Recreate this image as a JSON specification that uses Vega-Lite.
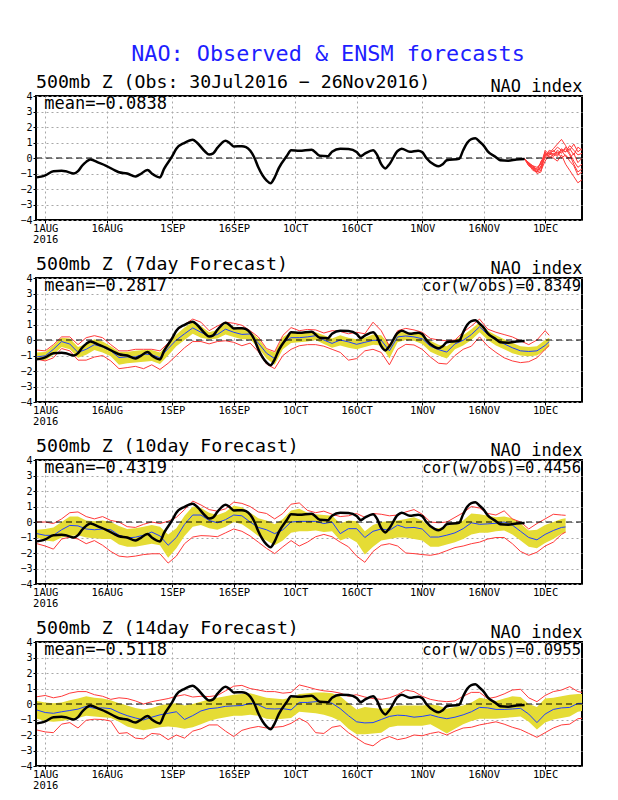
{
"$schema":"https://vega.github.io/schema/vega-lite/v6.json",
"autosize":{"type":"pad"},
"padding":{"left":18,"top":44,"right":30,"bottom":10},
"background":"white",
"title":{"text":"NAO: Observed & ENSM forecasts","color":"#1e1eff","fontSize":21.8,"font":"DejaVu Sans Mono","fontWeight":"normal","anchor":"middle","frame":"group","offset":6,"dx":19},
"bounds":"flush",
"spacing":58,
"datasets":{
"obs":[{"d":"2016-07-30","v":-1.25},{"d":"2016-07-31","v":-1.2},{"d":"2016-08-01","v":-1.12},{"d":"2016-08-03","v":-0.85},{"d":"2016-08-05","v":-0.83},{"d":"2016-08-06","v":-0.86},{"d":"2016-08-08","v":-1.0},{"d":"2016-08-09","v":-0.85},{"d":"2016-08-10","v":-0.5},{"d":"2016-08-11","v":-0.25},{"d":"2016-08-12","v":-0.1},{"d":"2016-08-14","v":-0.3},{"d":"2016-08-16","v":-0.52},{"d":"2016-08-18","v":-0.8},{"d":"2016-08-19","v":-0.92},{"d":"2016-08-21","v":-1.0},{"d":"2016-08-23","v":-1.2},{"d":"2016-08-24","v":-1.08},{"d":"2016-08-26","v":-0.77},{"d":"2016-08-27","v":-1.0},{"d":"2016-08-29","v":-1.25},{"d":"2016-08-30","v":-0.7},{"d":"2016-09-01","v":0.12},{"d":"2016-09-02","v":0.6},{"d":"2016-09-04","v":0.98},{"d":"2016-09-06","v":1.18},{"d":"2016-09-07","v":1.0},{"d":"2016-09-09","v":0.42},{"d":"2016-09-10","v":0.22},{"d":"2016-09-11","v":0.3},{"d":"2016-09-12","v":0.65},{"d":"2016-09-14","v":1.12},{"d":"2016-09-15","v":0.97},{"d":"2016-09-16","v":0.75},{"d":"2016-09-18","v":0.76},{"d":"2016-09-19","v":0.7},{"d":"2016-09-21","v":0.05},{"d":"2016-09-22","v":-0.6},{"d":"2016-09-24","v":-1.45},{"d":"2016-09-25","v":-1.63},{"d":"2016-09-26","v":-1.25},{"d":"2016-09-27","v":-0.65},{"d":"2016-09-29","v":0.15},{"d":"2016-09-30","v":0.5},{"d":"2016-10-02","v":0.47},{"d":"2016-10-05","v":0.54},{"d":"2016-10-07","v":0.15},{"d":"2016-10-09","v":0.12},{"d":"2016-10-10","v":0.41},{"d":"2016-10-12","v":0.6},{"d":"2016-10-14","v":0.58},{"d":"2016-10-16","v":0.38},{"d":"2016-10-17","v":0.13},{"d":"2016-10-18","v":0.28},{"d":"2016-10-20","v":0.5},{"d":"2016-10-21","v":0.2},{"d":"2016-10-22","v":-0.4},{"d":"2016-10-23","v":-0.67},{"d":"2016-10-24","v":-0.4},{"d":"2016-10-26","v":0.45},{"d":"2016-10-27","v":0.6},{"d":"2016-10-29","v":0.4},{"d":"2016-10-31","v":0.47},{"d":"2016-11-01","v":0.38},{"d":"2016-11-02","v":0.0},{"d":"2016-11-04","v":-0.45},{"d":"2016-11-05","v":-0.54},{"d":"2016-11-06","v":-0.4},{"d":"2016-11-07","v":-0.15},{"d":"2016-11-10","v":-0.05},{"d":"2016-11-11","v":0.5},{"d":"2016-11-12","v":0.98},{"d":"2016-11-13","v":1.22},{"d":"2016-11-14","v":1.27},{"d":"2016-11-15","v":1.05},{"d":"2016-11-16","v":0.8},{"d":"2016-11-17","v":0.43},{"d":"2016-11-19","v":0.05},{"d":"2016-11-20","v":-0.15},{"d":"2016-11-22","v":-0.17},{"d":"2016-11-24","v":-0.09},{"d":"2016-11-26","v":-0.06}],
"mem":[
{"m":1,"d":"2016-11-26","v":-0.06},{"m":1,"d":"2016-11-27","v":-0.4},{"m":1,"d":"2016-11-28","v":-0.6},{"m":1,"d":"2016-11-29","v":-0.8},{"m":1,"d":"2016-11-30","v":-0.7},{"m":1,"d":"2016-12-01","v":0.2},{"m":1,"d":"2016-12-02","v":0.3},{"m":1,"d":"2016-12-03","v":0.6},{"m":1,"d":"2016-12-04","v":0.9},{"m":1,"d":"2016-12-05","v":1.2},{"m":1,"d":"2016-12-06","v":0.8},{"m":1,"d":"2016-12-07","v":0.3},{"m":1,"d":"2016-12-08","v":-0.2},{"m":1,"d":"2016-12-09","v":-0.6},{"m":1,"d":"2016-12-10","v":-0.4},
{"m":2,"d":"2016-11-26","v":-0.06},{"m":2,"d":"2016-11-27","v":-0.3},{"m":2,"d":"2016-11-28","v":-0.7},{"m":2,"d":"2016-11-29","v":-0.9},{"m":2,"d":"2016-11-30","v":-0.5},{"m":2,"d":"2016-12-01","v":0.0},{"m":2,"d":"2016-12-02","v":0.4},{"m":2,"d":"2016-12-03","v":0.2},{"m":2,"d":"2016-12-04","v":0.5},{"m":2,"d":"2016-12-05","v":0.3},{"m":2,"d":"2016-12-06","v":0.7},{"m":2,"d":"2016-12-07","v":0.5},{"m":2,"d":"2016-12-08","v":0.9},{"m":2,"d":"2016-12-09","v":0.4},{"m":2,"d":"2016-12-10","v":0.6},
{"m":3,"d":"2016-11-26","v":-0.06},{"m":3,"d":"2016-11-27","v":-0.5},{"m":3,"d":"2016-11-28","v":-0.6},{"m":3,"d":"2016-11-29","v":-1.0},{"m":3,"d":"2016-11-30","v":-0.9},{"m":3,"d":"2016-12-01","v":0.3},{"m":3,"d":"2016-12-02","v":0.1},{"m":3,"d":"2016-12-03","v":0.0},{"m":3,"d":"2016-12-04","v":-0.2},{"m":3,"d":"2016-12-05","v":0.2},{"m":3,"d":"2016-12-06","v":-0.4},{"m":3,"d":"2016-12-07","v":-0.8},{"m":3,"d":"2016-12-08","v":-1.2},{"m":3,"d":"2016-12-09","v":-1.6},{"m":3,"d":"2016-12-10","v":-1.4},
{"m":4,"d":"2016-11-26","v":-0.06},{"m":4,"d":"2016-11-27","v":-0.4},{"m":4,"d":"2016-11-28","v":-0.5},{"m":4,"d":"2016-11-29","v":-0.8},{"m":4,"d":"2016-11-30","v":-0.6},{"m":4,"d":"2016-12-01","v":0.5},{"m":4,"d":"2016-12-02","v":0.2},{"m":4,"d":"2016-12-03","v":0.3},{"m":4,"d":"2016-12-04","v":0.1},{"m":4,"d":"2016-12-05","v":0.6},{"m":4,"d":"2016-12-06","v":0.4},{"m":4,"d":"2016-12-07","v":0.8},{"m":4,"d":"2016-12-08","v":0.5},{"m":4,"d":"2016-12-09","v":0.2},{"m":4,"d":"2016-12-10","v":0.3},
{"m":5,"d":"2016-11-26","v":-0.06},{"m":5,"d":"2016-11-27","v":-0.3},{"m":5,"d":"2016-11-28","v":-0.6},{"m":5,"d":"2016-11-29","v":-0.7},{"m":5,"d":"2016-11-30","v":-0.3},{"m":5,"d":"2016-12-01","v":0.4},{"m":5,"d":"2016-12-02","v":0.0},{"m":5,"d":"2016-12-03","v":0.2},{"m":5,"d":"2016-12-04","v":0.4},{"m":5,"d":"2016-12-05","v":0.0},{"m":5,"d":"2016-12-06","v":0.2},{"m":5,"d":"2016-12-07","v":-0.2},{"m":5,"d":"2016-12-08","v":-0.5},{"m":5,"d":"2016-12-09","v":-1.1},{"m":5,"d":"2016-12-10","v":-0.9},
{"m":6,"d":"2016-11-26","v":-0.06},{"m":6,"d":"2016-11-27","v":-0.4},{"m":6,"d":"2016-11-28","v":-0.8},{"m":6,"d":"2016-11-29","v":-0.9},{"m":6,"d":"2016-11-30","v":-0.2},{"m":6,"d":"2016-12-01","v":0.1},{"m":6,"d":"2016-12-02","v":0.5},{"m":6,"d":"2016-12-03","v":0.4},{"m":6,"d":"2016-12-04","v":0.7},{"m":6,"d":"2016-12-05","v":0.5},{"m":6,"d":"2016-12-06","v":0.4},{"m":6,"d":"2016-12-07","v":0.6},{"m":6,"d":"2016-12-08","v":0.2},{"m":6,"d":"2016-12-09","v":0.7},{"m":6,"d":"2016-12-10","v":0.5},
{"m":7,"d":"2016-11-26","v":-0.06},{"m":7,"d":"2016-11-27","v":-0.3},{"m":7,"d":"2016-11-28","v":-0.5},{"m":7,"d":"2016-11-29","v":-0.6},{"m":7,"d":"2016-11-30","v":-0.4},{"m":7,"d":"2016-12-01","v":0.2},{"m":7,"d":"2016-12-02","v":0.3},{"m":7,"d":"2016-12-03","v":0.1},{"m":7,"d":"2016-12-04","v":0.3},{"m":7,"d":"2016-12-05","v":0.5},{"m":7,"d":"2016-12-06","v":0.1},{"m":7,"d":"2016-12-07","v":0.0},{"m":7,"d":"2016-12-08","v":0.3},{"m":7,"d":"2016-12-09","v":-0.3},{"m":7,"d":"2016-12-10","v":0.0},
{"m":8,"d":"2016-11-26","v":-0.06},{"m":8,"d":"2016-11-27","v":-0.5},{"m":8,"d":"2016-11-28","v":-0.7},{"m":8,"d":"2016-11-29","v":-0.9},{"m":8,"d":"2016-11-30","v":-0.8},{"m":8,"d":"2016-12-01","v":-0.2},{"m":8,"d":"2016-12-02","v":0.2},{"m":8,"d":"2016-12-03","v":0.5},{"m":8,"d":"2016-12-04","v":0.2},{"m":8,"d":"2016-12-05","v":0.4},{"m":8,"d":"2016-12-06","v":0.6},{"m":8,"d":"2016-12-07","v":0.2},{"m":8,"d":"2016-12-08","v":-0.4},{"m":8,"d":"2016-12-09","v":-0.9},{"m":8,"d":"2016-12-10","v":-0.7}],
"p2":[
{"d":"2016-07-30","mean":-1.09,"lo":-1.22,"hi":-0.8,"mn":-1.24,"mx":-0.65},
{"d":"2016-08-01","mean":-1.02,"lo":-1.3,"hi":-0.78,"mn":-1.35,"mx":-0.7},
{"d":"2016-08-03","mean":-0.6,"lo":-0.95,"hi":-0.35,"mn":-1.15,"mx":-0.3},
{"d":"2016-08-05","mean":-0.1,"lo":-0.45,"hi":0.15,"mn":-0.55,"mx":0.2},
{"d":"2016-08-07","mean":-0.26,"lo":-0.6,"hi":0.1,"mn":-0.7,"mx":0.2},
{"d":"2016-08-09","mean":-0.8,"lo":-1.15,"hi":-0.45,"mn":-1.3,"mx":-0.3},
{"d":"2016-08-11","mean":-0.6,"lo":-0.95,"hi":-0.25,"mn":-1.3,"mx":0.15},
{"d":"2016-08-13","mean":-0.3,"lo":-0.65,"hi":0.05,"mn":-1.1,"mx":0.28},
{"d":"2016-08-15","mean":-0.45,"lo":-0.8,"hi":-0.1,"mn":-1.0,"mx":0.15},
{"d":"2016-08-17","mean":-0.7,"lo":-1.05,"hi":-0.4,"mn":-1.35,"mx":-0.3},
{"d":"2016-08-19","mean":-1.13,"lo":-1.6,"hi":-0.75,"mn":-1.85,"mx":-0.7},
{"d":"2016-08-21","mean":-1.09,"lo":-1.5,"hi":-0.75,"mn":-1.78,"mx":-0.7},
{"d":"2016-08-23","mean":-1.09,"lo":-1.45,"hi":-0.7,"mn":-1.7,"mx":-0.6},
{"d":"2016-08-25","mean":-0.9,"lo":-1.4,"hi":-0.65,"mn":-1.85,"mx":-0.6},
{"d":"2016-08-27","mean":-0.95,"lo":-1.35,"hi":-0.65,"mn":-1.6,"mx":-0.6},
{"d":"2016-08-29","mean":-1.15,"lo":-1.55,"hi":-0.8,"mn":-1.9,"mx":-0.7},
{"d":"2016-08-31","mean":-0.55,"lo":-1.0,"hi":-0.25,"mn":-1.5,"mx":-0.2},
{"d":"2016-09-02","mean":0.0,"lo":-0.4,"hi":0.35,"mn":-1.0,"mx":0.6},
{"d":"2016-09-04","mean":0.4,"lo":0.0,"hi":0.8,"mn":-0.5,"mx":1.0},
{"d":"2016-09-06","mean":0.78,"lo":0.4,"hi":1.15,"mn":-0.1,"mx":1.35},
{"d":"2016-09-08","mean":0.5,"lo":0.15,"hi":0.9,"mn":-0.1,"mx":1.15},
{"d":"2016-09-10","mean":0.25,"lo":0.05,"hi":0.5,"mn":-0.25,"mx":0.6},
{"d":"2016-09-12","mean":0.35,"lo":0.1,"hi":0.65,"mn":-0.1,"mx":0.9},
{"d":"2016-09-14","mean":0.7,"lo":0.35,"hi":1.05,"mn":-0.05,"mx":1.15},
{"d":"2016-09-16","mean":0.5,"lo":0.2,"hi":0.85,"mn":-0.15,"mx":1.08},
{"d":"2016-09-18","mean":0.36,"lo":0.05,"hi":0.75,"mn":-0.37,"mx":0.95},
{"d":"2016-09-20","mean":0.39,"lo":0.05,"hi":0.55,"mn":-0.2,"mx":0.6},
{"d":"2016-09-22","mean":-0.2,"lo":-0.5,"hi":0.1,"mn":-0.75,"mx":0.2},
{"d":"2016-09-24","mean":-0.85,"lo":-1.2,"hi":-0.6,"mn":-1.55,"mx":-0.55},
{"d":"2016-09-26","mean":-1.2,"lo":-1.6,"hi":-0.8,"mn":-1.85,"mx":-0.75},
{"d":"2016-09-28","mean":-0.2,"lo":-0.6,"hi":0.2,"mn":-1.0,"mx":0.3},
{"d":"2016-09-30","mean":0.15,"lo":-0.2,"hi":0.5,"mn":-0.6,"mx":0.8},
{"d":"2016-10-02","mean":0.15,"lo":-0.15,"hi":0.45,"mn":-0.37,"mx":0.6},
{"d":"2016-10-04","mean":0.2,"lo":-0.1,"hi":0.5,"mn":-0.3,"mx":0.68},
{"d":"2016-10-06","mean":0.28,"lo":0.0,"hi":0.5,"mn":-0.3,"mx":0.65},
{"d":"2016-10-08","mean":0.0,"lo":-0.25,"hi":0.3,"mn":-0.4,"mx":0.45},
{"d":"2016-10-10","mean":-0.22,"lo":-0.5,"hi":0.1,"mn":-0.6,"mx":0.6},
{"d":"2016-10-12","mean":0.0,"lo":-0.35,"hi":0.3,"mn":-0.8,"mx":0.55},
{"d":"2016-10-14","mean":-0.12,"lo":-0.5,"hi":0.15,"mn":-1.3,"mx":0.4},
{"d":"2016-10-16","mean":-0.28,"lo":-0.6,"hi":0.05,"mn":-1.2,"mx":0.5},
{"d":"2016-10-18","mean":-0.15,"lo":-0.45,"hi":0.15,"mn":-0.7,"mx":0.4},
{"d":"2016-10-20","mean":-0.02,"lo":-0.3,"hi":0.35,"mn":-0.6,"mx":1.15},
{"d":"2016-10-22","mean":-0.02,"lo":-0.35,"hi":0.3,"mn":-0.8,"mx":0.6},
{"d":"2016-10-24","mean":-0.7,"lo":-1.2,"hi":-0.3,"mn":-1.6,"mx":-0.4},
{"d":"2016-10-26","mean":0.2,"lo":-0.15,"hi":0.5,"mn":-0.6,"mx":0.6},
{"d":"2016-10-28","mean":0.26,"lo":0.0,"hi":0.5,"mn":-0.28,"mx":0.75},
{"d":"2016-10-30","mean":0.2,"lo":-0.05,"hi":0.45,"mn":-0.32,"mx":0.65},
{"d":"2016-11-01","mean":0.08,"lo":-0.25,"hi":0.35,"mn":-0.6,"mx":0.5},
{"d":"2016-11-03","mean":-0.4,"lo":-0.75,"hi":-0.05,"mn":-1.1,"mx":0.1},
{"d":"2016-11-05","mean":-0.62,"lo":-1.0,"hi":-0.3,"mn":-1.5,"mx":0.0},
{"d":"2016-11-07","mean":-0.78,"lo":-1.2,"hi":-0.4,"mn":-1.55,"mx":-0.05},
{"d":"2016-11-09","mean":-0.25,"lo":-0.6,"hi":0.0,"mn":-1.0,"mx":0.0},
{"d":"2016-11-11","mean":-0.02,"lo":-0.35,"hi":0.3,"mn":-0.6,"mx":0.5},
{"d":"2016-11-13","mean":0.35,"lo":0.0,"hi":0.7,"mn":-0.4,"mx":0.9},
{"d":"2016-11-15","mean":0.85,"lo":0.5,"hi":1.15,"mn":0.2,"mx":1.35},
{"d":"2016-11-17","mean":0.35,"lo":0.0,"hi":0.6,"mn":-0.4,"mx":0.7},
{"d":"2016-11-19","mean":0.0,"lo":-0.35,"hi":0.3,"mn":-0.8,"mx":0.5},
{"d":"2016-11-21","mean":-0.25,"lo":-0.6,"hi":0.05,"mn":-1.15,"mx":0.35},
{"d":"2016-11-23","mean":-0.5,"lo":-0.85,"hi":-0.2,"mn":-1.35,"mx":0.2},
{"d":"2016-11-25","mean":-0.7,"lo":-1.0,"hi":-0.4,"mn":-1.46,"mx":-0.05},
{"d":"2016-11-27","mean":-0.74,"lo":-1.05,"hi":-0.45,"mn":-1.4,"mx":-0.3},
{"d":"2016-11-29","mean":-0.7,"lo":-1.0,"hi":-0.4,"mn":-1.15,"mx":0.0},
{"d":"2016-12-01","mean":-0.35,"lo":-0.65,"hi":0.0,"mn":-0.6,"mx":0.6},
{"d":"2016-12-02","mean":-0.1,"lo":-0.4,"hi":0.15,"mn":-0.35,"mx":0.3}],
"p3":[
{"d":"2016-07-30","mean":-0.75,"lo":-1.0,"hi":-0.5,"mn":-1.4,"mx":0.0},
{"d":"2016-08-01","mean":-0.86,"lo":-1.2,"hi":-0.45,"mn":-1.55,"mx":0.0},
{"d":"2016-08-03","mean":-0.86,"lo":-1.25,"hi":-0.35,"mn":-1.75,"mx":-0.1},
{"d":"2016-08-05","mean":-0.5,"lo":-1.0,"hi":0.0,"mn":-1.1,"mx":0.2},
{"d":"2016-08-07","mean":-0.22,"lo":-0.9,"hi":0.35,"mn":-0.97,"mx":0.6},
{"d":"2016-08-09","mean":-0.25,"lo":-0.85,"hi":0.35,"mn":-1.1,"mx":0.65},
{"d":"2016-08-11","mean":-0.45,"lo":-1.0,"hi":0.1,"mn":-1.4,"mx":0.35},
{"d":"2016-08-13","mean":-0.5,"lo":-1.05,"hi":0.05,"mn":-1.2,"mx":0.2},
{"d":"2016-08-15","mean":-0.45,"lo":-1.1,"hi":0.1,"mn":-1.5,"mx":0.35},
{"d":"2016-08-17","mean":-0.5,"lo":-1.1,"hi":0.0,"mn":-1.9,"mx":0.1},
{"d":"2016-08-19","mean":-0.85,"lo":-1.45,"hi":-0.25,"mn":-2.2,"mx":0.0},
{"d":"2016-08-21","mean":-1.03,"lo":-1.6,"hi":-0.45,"mn":-2.26,"mx":-0.3},
{"d":"2016-08-23","mean":-0.98,"lo":-1.6,"hi":-0.4,"mn":-2.2,"mx":-0.35},
{"d":"2016-08-25","mean":-0.85,"lo":-1.5,"hi":-0.3,"mn":-2.1,"mx":-0.15},
{"d":"2016-08-27","mean":-0.65,"lo":-1.4,"hi":-0.2,"mn":-2.05,"mx":0.0},
{"d":"2016-08-29","mean":-0.9,"lo":-1.5,"hi":-0.3,"mn":-2.05,"mx":-0.1},
{"d":"2016-08-31","mean":-1.5,"lo":-2.3,"hi":-0.8,"mn":-2.65,"mx":0.05},
{"d":"2016-09-02","mean":-1.0,"lo":-1.7,"hi":-0.4,"mn":-2.2,"mx":0.3},
{"d":"2016-09-04","mean":-0.15,"lo":-0.9,"hi":0.4,"mn":-1.4,"mx":0.8},
{"d":"2016-09-06","mean":0.45,"lo":-0.3,"hi":1.0,"mn":-0.97,"mx":1.35},
{"d":"2016-09-08","mean":0.45,"lo":-0.2,"hi":0.9,"mn":-0.88,"mx":1.1},
{"d":"2016-09-10","mean":0.1,"lo":-0.4,"hi":0.6,"mn":-0.9,"mx":0.8},
{"d":"2016-09-12","mean":-0.05,"lo":-0.5,"hi":0.45,"mn":-0.95,"mx":0.7},
{"d":"2016-09-14","mean":0.15,"lo":-0.3,"hi":0.65,"mn":-0.7,"mx":0.85},
{"d":"2016-09-16","mean":0.45,"lo":0.0,"hi":1.05,"mn":-0.45,"mx":1.28},
{"d":"2016-09-18","mean":0.4,"lo":-0.15,"hi":0.95,"mn":-0.6,"mx":1.2},
{"d":"2016-09-20","mean":0.0,"lo":-0.5,"hi":0.6,"mn":-0.9,"mx":1.0},
{"d":"2016-09-22","mean":-0.35,"lo":-0.9,"hi":0.25,"mn":-1.3,"mx":0.65},
{"d":"2016-09-24","mean":-0.5,"lo":-1.2,"hi":0.1,"mn":-1.7,"mx":0.55},
{"d":"2016-09-26","mean":-0.75,"lo":-1.5,"hi":-0.15,"mn":-2.04,"mx":0.2},
{"d":"2016-09-28","mean":-0.5,"lo":-1.2,"hi":0.2,"mn":-1.6,"mx":0.55},
{"d":"2016-09-30","mean":0.0,"lo":-0.7,"hi":0.75,"mn":-1.2,"mx":1.15},
{"d":"2016-10-02","mean":0.04,"lo":-0.6,"hi":0.85,"mn":-1.55,"mx":1.23},
{"d":"2016-10-04","mean":0.04,"lo":-0.6,"hi":0.6,"mn":-1.3,"mx":0.75},
{"d":"2016-10-06","mean":0.04,"lo":-0.55,"hi":0.5,"mn":-0.95,"mx":0.6},
{"d":"2016-10-08","mean":-0.1,"lo":-0.65,"hi":0.45,"mn":-0.8,"mx":0.7},
{"d":"2016-10-10","mean":0.0,"lo":-0.6,"hi":0.4,"mn":-0.95,"mx":0.5},
{"d":"2016-10-12","mean":-0.75,"lo":-1.2,"hi":-0.1,"mn":-1.3,"mx":0.35},
{"d":"2016-10-14","mean":-0.43,"lo":-1.0,"hi":0.1,"mn":-1.6,"mx":0.4},
{"d":"2016-10-16","mean":-0.43,"lo":-1.3,"hi":0.05,"mn":-2.2,"mx":0.55},
{"d":"2016-10-18","mean":-1.0,"lo":-2.1,"hi":-0.6,"mn":-2.6,"mx":0.3},
{"d":"2016-10-20","mean":-0.6,"lo":-1.6,"hi":-0.2,"mn":-1.9,"mx":0.55},
{"d":"2016-10-22","mean":-0.45,"lo":-1.2,"hi":0.0,"mn":-1.5,"mx":0.5},
{"d":"2016-10-24","mean":-0.54,"lo":-1.1,"hi":0.05,"mn":-1.4,"mx":0.4},
{"d":"2016-10-26","mean":-0.2,"lo":-1.0,"hi":0.1,"mn":-1.55,"mx":0.45},
{"d":"2016-10-28","mean":-0.38,"lo":-1.0,"hi":0.2,"mn":-2.0,"mx":0.65},
{"d":"2016-10-30","mean":-0.35,"lo":-1.1,"hi":0.3,"mn":-2.04,"mx":0.8},
{"d":"2016-11-01","mean":-0.45,"lo":-1.2,"hi":0.1,"mn":-2.1,"mx":0.5},
{"d":"2016-11-03","mean":-0.97,"lo":-1.6,"hi":-0.35,"mn":-2.15,"mx":0.0},
{"d":"2016-11-05","mean":-0.97,"lo":-1.6,"hi":-0.4,"mn":-2.05,"mx":-0.05},
{"d":"2016-11-07","mean":-0.85,"lo":-1.45,"hi":-0.25,"mn":-1.85,"mx":0.0},
{"d":"2016-11-09","mean":-0.7,"lo":-1.3,"hi":-0.1,"mn":-1.65,"mx":0.3},
{"d":"2016-11-11","mean":-0.43,"lo":-1.1,"hi":0.1,"mn":-1.55,"mx":0.6},
{"d":"2016-11-13","mean":-0.05,"lo":-0.8,"hi":0.55,"mn":-1.4,"mx":1.0},
{"d":"2016-11-15","mean":-0.15,"lo":-0.7,"hi":0.5,"mn":-1.3,"mx":0.9},
{"d":"2016-11-17","mean":-0.12,"lo":-0.7,"hi":0.4,"mn":-1.1,"mx":0.55},
{"d":"2016-11-19","mean":-0.08,"lo":-0.6,"hi":0.3,"mn":-1.0,"mx":0.45},
{"d":"2016-11-21","mean":0.0,"lo":-0.55,"hi":0.35,"mn":-1.0,"mx":0.72},
{"d":"2016-11-23","mean":-0.2,"lo":-0.8,"hi":0.25,"mn":-1.4,"mx":0.2},
{"d":"2016-11-25","mean":-0.6,"lo":-1.2,"hi":-0.1,"mn":-1.9,"mx":0.0},
{"d":"2016-11-27","mean":-1.0,"lo":-1.6,"hi":-0.55,"mn":-2.15,"mx":-0.45},
{"d":"2016-11-29","mean":-1.15,"lo":-1.7,"hi":-0.5,"mn":-1.95,"mx":-0.1},
{"d":"2016-12-01","mean":-0.8,"lo":-1.35,"hi":-0.2,"mn":-1.55,"mx":0.2},
{"d":"2016-12-03","mean":-0.55,"lo":-1.1,"hi":0.0,"mn":-1.3,"mx":0.5},
{"d":"2016-12-05","mean":-0.35,"lo":-0.75,"hi":0.2,"mn":-0.8,"mx":0.45},
{"d":"2016-12-06","mean":-0.32,"lo":-0.7,"hi":0.25,"mn":-0.65,"mx":0.43}],
"p4":[
{"d":"2016-07-30","mean":-0.39,"lo":-0.95,"hi":0.2,"mn":-1.68,"mx":0.47},
{"d":"2016-08-01","mean":-0.55,"lo":-1.1,"hi":0.1,"mn":-1.8,"mx":0.55},
{"d":"2016-08-03","mean":-0.6,"lo":-1.15,"hi":0.05,"mn":-1.85,"mx":0.4},
{"d":"2016-08-05","mean":-0.5,"lo":-1.1,"hi":0.1,"mn":-1.3,"mx":0.5},
{"d":"2016-08-07","mean":-0.42,"lo":-1.0,"hi":0.25,"mn":-1.2,"mx":0.7},
{"d":"2016-08-09","mean":-0.33,"lo":-0.9,"hi":0.35,"mn":-1.55,"mx":0.8},
{"d":"2016-08-11","mean":-0.15,"lo":-0.75,"hi":0.5,"mn":-1.05,"mx":0.8},
{"d":"2016-08-13","mean":-0.28,"lo":-0.8,"hi":0.4,"mn":-0.98,"mx":0.6},
{"d":"2016-08-15","mean":-0.25,"lo":-0.85,"hi":0.35,"mn":-1.0,"mx":0.5},
{"d":"2016-08-17","mean":-0.3,"lo":-0.9,"hi":0.25,"mn":-1.1,"mx":0.3},
{"d":"2016-08-19","mean":-0.55,"lo":-1.15,"hi":0.05,"mn":-1.9,"mx":0.4},
{"d":"2016-08-21","mean":-0.75,"lo":-1.45,"hi":-0.1,"mn":-1.85,"mx":0.35},
{"d":"2016-08-23","mean":-0.9,"lo":-1.6,"hi":-0.25,"mn":-2.2,"mx":0.2},
{"d":"2016-08-25","mean":-1.03,"lo":-1.7,"hi":-0.35,"mn":-2.25,"mx":0.0},
{"d":"2016-08-27","mean":-0.85,"lo":-1.6,"hi":-0.25,"mn":-1.9,"mx":0.15},
{"d":"2016-08-29","mean":-0.7,"lo":-1.5,"hi":-0.1,"mn":-1.95,"mx":0.25},
{"d":"2016-08-31","mean":-0.6,"lo":-1.45,"hi":0.0,"mn":-2.3,"mx":0.35},
{"d":"2016-09-02","mean":-0.5,"lo":-1.5,"hi":0.05,"mn":-2.0,"mx":0.5},
{"d":"2016-09-04","mean":-1.0,"lo":-1.6,"hi":-0.1,"mn":-2.2,"mx":0.6},
{"d":"2016-09-06","mean":-0.75,"lo":-1.5,"hi":0.0,"mn":-1.75,"mx":0.45},
{"d":"2016-09-08","mean":-0.45,"lo":-1.3,"hi":0.15,"mn":-1.6,"mx":0.5},
{"d":"2016-09-10","mean":-0.3,"lo":-1.1,"hi":0.3,"mn":-1.35,"mx":0.48},
{"d":"2016-09-12","mean":-0.25,"lo":-0.95,"hi":0.4,"mn":-1.35,"mx":0.55},
{"d":"2016-09-14","mean":-0.15,"lo":-0.85,"hi":0.5,"mn":-1.75,"mx":0.85},
{"d":"2016-09-16","mean":-0.12,"lo":-0.75,"hi":0.6,"mn":-2.1,"mx":1.15},
{"d":"2016-09-18","mean":-0.1,"lo":-0.75,"hi":0.65,"mn":-1.7,"mx":1.2},
{"d":"2016-09-20","mean":0.05,"lo":-0.7,"hi":0.7,"mn":-1.55,"mx":1.0},
{"d":"2016-09-22","mean":-0.05,"lo":-0.75,"hi":0.55,"mn":-1.45,"mx":0.9},
{"d":"2016-09-24","mean":-0.3,"lo":-0.95,"hi":0.4,"mn":-1.55,"mx":0.8},
{"d":"2016-09-26","mean":-0.32,"lo":-1.0,"hi":0.35,"mn":-1.5,"mx":0.8},
{"d":"2016-09-28","mean":-0.3,"lo":-0.95,"hi":0.3,"mn":-1.45,"mx":0.7},
{"d":"2016-09-30","mean":-0.38,"lo":-0.9,"hi":0.4,"mn":-1.25,"mx":0.75},
{"d":"2016-10-02","mean":0.1,"lo":-0.5,"hi":0.65,"mn":-0.92,"mx":1.23},
{"d":"2016-10-04","mean":0.1,"lo":-0.55,"hi":0.7,"mn":-1.2,"mx":1.1},
{"d":"2016-10-06","mean":0.15,"lo":-0.6,"hi":0.75,"mn":-1.85,"mx":0.95},
{"d":"2016-10-08","mean":0.15,"lo":-0.7,"hi":0.75,"mn":-1.9,"mx":0.85},
{"d":"2016-10-10","mean":0.05,"lo":-0.85,"hi":0.7,"mn":-1.5,"mx":0.8},
{"d":"2016-10-12","mean":-0.3,"lo":-1.1,"hi":0.5,"mn":-1.4,"mx":0.7},
{"d":"2016-10-14","mean":-0.75,"lo":-1.6,"hi":0.05,"mn":-1.85,"mx":0.5},
{"d":"2016-10-16","mean":-1.15,"lo":-1.95,"hi":-0.35,"mn":-2.2,"mx":0.6},
{"d":"2016-10-18","mean":-1.22,"lo":-1.95,"hi":-0.2,"mn":-2.55,"mx":0.45},
{"d":"2016-10-20","mean":-1.2,"lo":-1.9,"hi":-0.25,"mn":-2.7,"mx":0.35},
{"d":"2016-10-22","mean":-1.0,"lo":-1.85,"hi":-0.3,"mn":-2.3,"mx":0.3},
{"d":"2016-10-24","mean":-0.8,"lo":-1.5,"hi":-0.25,"mn":-2.1,"mx":0.4},
{"d":"2016-10-26","mean":-0.72,"lo":-1.4,"hi":-0.1,"mn":-2.3,"mx":0.6},
{"d":"2016-10-28","mean":-0.75,"lo":-1.4,"hi":-0.1,"mn":-2.2,"mx":0.9},
{"d":"2016-10-30","mean":-0.85,"lo":-1.4,"hi":-0.1,"mn":-2.0,"mx":0.8},
{"d":"2016-11-01","mean":-0.8,"lo":-1.4,"hi":-0.1,"mn":-2.05,"mx":0.5},
{"d":"2016-11-03","mean":-0.7,"lo":-1.3,"hi":-0.05,"mn":-1.9,"mx":0.3},
{"d":"2016-11-05","mean":-0.85,"lo":-1.6,"hi":-0.1,"mn":-1.8,"mx":0.2},
{"d":"2016-11-07","mean":-0.95,"lo":-1.9,"hi":-0.3,"mn":-2.0,"mx":0.15},
{"d":"2016-11-09","mean":-0.85,"lo":-1.6,"hi":-0.2,"mn":-1.75,"mx":0.2},
{"d":"2016-11-11","mean":-0.7,"lo":-1.3,"hi":-0.1,"mn":-1.55,"mx":0.5},
{"d":"2016-11-13","mean":-0.5,"lo":-1.1,"hi":0.1,"mn":-1.5,"mx":0.75},
{"d":"2016-11-15","mean":-0.22,"lo":-0.95,"hi":0.4,"mn":-1.35,"mx":0.75},
{"d":"2016-11-17","mean":-0.25,"lo":-0.95,"hi":0.3,"mn":-1.25,"mx":0.35},
{"d":"2016-11-19","mean":-0.35,"lo":-0.95,"hi":0.2,"mn":-1.15,"mx":0.45},
{"d":"2016-11-21","mean":-0.35,"lo":-0.9,"hi":0.35,"mn":-1.3,"mx":0.65},
{"d":"2016-11-23","mean":-0.32,"lo":-0.85,"hi":0.5,"mn":-1.5,"mx":0.9},
{"d":"2016-11-25","mean":-0.28,"lo":-0.8,"hi":0.45,"mn":-1.65,"mx":0.95},
{"d":"2016-11-27","mean":-0.65,"lo":-1.15,"hi":0.0,"mn":-1.9,"mx":0.4},
{"d":"2016-11-29","mean":-1.2,"lo":-1.65,"hi":-0.2,"mn":-2.15,"mx":0.15},
{"d":"2016-12-01","mean":-0.65,"lo":-1.2,"hi":0.35,"mn":-1.85,"mx":0.55},
{"d":"2016-12-03","mean":-0.35,"lo":-1.0,"hi":0.4,"mn":-1.55,"mx":0.8},
{"d":"2016-12-05","mean":-0.25,"lo":-0.9,"hi":0.5,"mn":-1.35,"mx":0.9},
{"d":"2016-12-07","mean":-0.22,"lo":-0.8,"hi":0.6,"mn":-1.3,"mx":1.12},
{"d":"2016-12-09","mean":0.04,"lo":-0.5,"hi":0.65,"mn":-0.95,"mx":0.8},
{"d":"2016-12-10","mean":0.04,"lo":-0.45,"hi":0.65,"mn":-0.92,"mx":0.75}]
},
"vconcat":[
{"width":546,"height":124,"title":{"text":"500mb Z (Obs: 30Jul2016 − 26Nov2016)"},
"layer":[
{"data":{"name":"mem"},"mark":{"type":"line","color":"#ff3a3a","strokeWidth":1},
 "encoding":{"x":{"field":"d","type":"temporal","title":null,"scale":{"type":"utc","domain":[{"year":2016,"month":7,"date":29,"hours":18,"utc":true},{"year":2016,"month":12,"date":10,"utc":true}]},"axis":{"values":[{"year":2016,"month":8,"date":1,"utc":true},{"year":2016,"month":8,"date":16,"utc":true},{"year":2016,"month":9,"date":1,"utc":true},{"year":2016,"month":9,"date":16,"utc":true},{"year":2016,"month":10,"date":1,"utc":true},{"year":2016,"month":10,"date":16,"utc":true},{"year":2016,"month":11,"date":1,"utc":true},{"year":2016,"month":11,"date":16,"utc":true},{"year":2016,"month":12,"date":1,"utc":true}],"labelExpr":"utcmonth(datum.value)==7 && utcdate(datum.value)==1 ? ['1AUG','2016'] : upper(utcFormat(datum.value,'%-d%b'))"}},
 "y":{"field":"v","type":"quantitative","scale":{"domain":[-4,4]},"title":"NAO index"},"detail":{"field":"m"}}},
{"data":{"values":[{}]},"mark":{"type":"rule","color":"black","strokeDash":[6,4],"strokeWidth":1},"encoding":{"y":{"datum":0,"type":"quantitative","scale":{"domain":[-4,4]},"title":"NAO index"}}},
{"data":{"name":"obs"},"mark":{"type":"line","color":"black","strokeWidth":2.5,"interpolate":"monotone"},
 "encoding":{"x":{"field":"d","type":"temporal","title":null,"scale":{"type":"utc","domain":[{"year":2016,"month":7,"date":29,"hours":18,"utc":true},{"year":2016,"month":12,"date":10,"utc":true}]}},"y":{"field":"v","type":"quantitative","scale":{"domain":[-4,4]},"title":"NAO index"}}},
{"data":{"values":[{"t":"mean=−0.0838"}]},"mark":{"type":"text","align":"left","baseline":"middle","font":"DejaVu Sans Mono","fontSize":17},
 "encoding":{"x":{"datum":{"year":2016,"month":7,"date":31,"hours":18,"utc":true},"type":"temporal","title":null,"scale":{"type":"utc"}},"y":{"datum":3.5,"type":"quantitative","scale":{"domain":[-4,4]},"title":"NAO index"},"text":{"field":"t"}}}
]},
{"width":546,"height":124,"title":{"text":"500mb Z (7day Forecast)"},
"layer":[
{"data":{"name":"p2"},"mark":{"type":"area","color":"#e5dc35","opacity":1},
 "encoding":{"x":{"field":"d","type":"temporal","title":null,"scale":{"type":"utc","domain":[{"year":2016,"month":7,"date":29,"hours":18,"utc":true},{"year":2016,"month":12,"date":10,"utc":true}]},"axis":{"values":[{"year":2016,"month":8,"date":1,"utc":true},{"year":2016,"month":8,"date":16,"utc":true},{"year":2016,"month":9,"date":1,"utc":true},{"year":2016,"month":9,"date":16,"utc":true},{"year":2016,"month":10,"date":1,"utc":true},{"year":2016,"month":10,"date":16,"utc":true},{"year":2016,"month":11,"date":1,"utc":true},{"year":2016,"month":11,"date":16,"utc":true},{"year":2016,"month":12,"date":1,"utc":true}],"labelExpr":"utcmonth(datum.value)==7 && utcdate(datum.value)==1 ? ['1AUG','2016'] : upper(utcFormat(datum.value,'%-d%b'))"}},
 "y":{"field":"lo","type":"quantitative","scale":{"domain":[-4,4]},"title":"NAO index"},"y2":{"field":"hi"}}},
{"data":{"name":"p2"},"mark":{"type":"line","color":"#ff3a3a","strokeWidth":1},
 "encoding":{"x":{"field":"d","type":"temporal","title":null,"scale":{"type":"utc","domain":[{"year":2016,"month":7,"date":29,"hours":18,"utc":true},{"year":2016,"month":12,"date":10,"utc":true}]}},"y":{"field":"mx","type":"quantitative","scale":{"domain":[-4,4]},"title":"NAO index"}}},
{"data":{"name":"p2"},"mark":{"type":"line","color":"#ff3a3a","strokeWidth":1},
 "encoding":{"x":{"field":"d","type":"temporal","title":null,"scale":{"type":"utc","domain":[{"year":2016,"month":7,"date":29,"hours":18,"utc":true},{"year":2016,"month":12,"date":10,"utc":true}]}},"y":{"field":"mn","type":"quantitative","scale":{"domain":[-4,4]},"title":"NAO index"}}},
{"data":{"name":"p2"},"mark":{"type":"line","color":"#2040ff","strokeWidth":1},
 "encoding":{"x":{"field":"d","type":"temporal","title":null,"scale":{"type":"utc","domain":[{"year":2016,"month":7,"date":29,"hours":18,"utc":true},{"year":2016,"month":12,"date":10,"utc":true}]}},"y":{"field":"mean","type":"quantitative","scale":{"domain":[-4,4]},"title":"NAO index"}}},
{"data":{"values":[{}]},"mark":{"type":"rule","color":"black","strokeDash":[6,4],"strokeWidth":1},"encoding":{"y":{"datum":0,"type":"quantitative","scale":{"domain":[-4,4]},"title":"NAO index"}}},
{"data":{"name":"obs"},"mark":{"type":"line","color":"black","strokeWidth":2.5,"interpolate":"monotone"},
 "encoding":{"x":{"field":"d","type":"temporal","title":null,"scale":{"type":"utc","domain":[{"year":2016,"month":7,"date":29,"hours":18,"utc":true},{"year":2016,"month":12,"date":10,"utc":true}]}},"y":{"field":"v","type":"quantitative","scale":{"domain":[-4,4]},"title":"NAO index"}}},
{"data":{"values":[{"t":"mean=−0.2817"}]},"mark":{"type":"text","align":"left","baseline":"middle","font":"DejaVu Sans Mono","fontSize":17},
 "encoding":{"x":{"datum":{"year":2016,"month":7,"date":31,"hours":18,"utc":true},"type":"temporal","title":null,"scale":{"type":"utc"}},"y":{"datum":3.5,"type":"quantitative","scale":{"domain":[-4,4]},"title":"NAO index"},"text":{"field":"t"}}},
{"data":{"values":[{"t":"cor(w/obs)=0.8349"}]},"mark":{"type":"text","align":"right","baseline":"middle","font":"DejaVu Sans Mono","fontSize":15.5,"dx":-1},
 "encoding":{"x":{"datum":{"year":2016,"month":12,"date":10,"utc":true},"type":"temporal","title":null,"scale":{"type":"utc"}},"y":{"datum":3.5,"type":"quantitative","scale":{"domain":[-4,4]},"title":"NAO index"},"text":{"field":"t"}}}
]},
{"width":546,"height":124,"title":{"text":"500mb Z (10day Forecast)"},
"layer":[
{"data":{"name":"p3"},"mark":{"type":"area","color":"#e5dc35","opacity":1},
 "encoding":{"x":{"field":"d","type":"temporal","title":null,"scale":{"type":"utc","domain":[{"year":2016,"month":7,"date":29,"hours":18,"utc":true},{"year":2016,"month":12,"date":10,"utc":true}]},"axis":{"values":[{"year":2016,"month":8,"date":1,"utc":true},{"year":2016,"month":8,"date":16,"utc":true},{"year":2016,"month":9,"date":1,"utc":true},{"year":2016,"month":9,"date":16,"utc":true},{"year":2016,"month":10,"date":1,"utc":true},{"year":2016,"month":10,"date":16,"utc":true},{"year":2016,"month":11,"date":1,"utc":true},{"year":2016,"month":11,"date":16,"utc":true},{"year":2016,"month":12,"date":1,"utc":true}],"labelExpr":"utcmonth(datum.value)==7 && utcdate(datum.value)==1 ? ['1AUG','2016'] : upper(utcFormat(datum.value,'%-d%b'))"}},
 "y":{"field":"lo","type":"quantitative","scale":{"domain":[-4,4]},"title":"NAO index"},"y2":{"field":"hi"}}},
{"data":{"name":"p3"},"mark":{"type":"line","color":"#ff3a3a","strokeWidth":1},
 "encoding":{"x":{"field":"d","type":"temporal","title":null,"scale":{"type":"utc","domain":[{"year":2016,"month":7,"date":29,"hours":18,"utc":true},{"year":2016,"month":12,"date":10,"utc":true}]}},"y":{"field":"mx","type":"quantitative","scale":{"domain":[-4,4]},"title":"NAO index"}}},
{"data":{"name":"p3"},"mark":{"type":"line","color":"#ff3a3a","strokeWidth":1},
 "encoding":{"x":{"field":"d","type":"temporal","title":null,"scale":{"type":"utc","domain":[{"year":2016,"month":7,"date":29,"hours":18,"utc":true},{"year":2016,"month":12,"date":10,"utc":true}]}},"y":{"field":"mn","type":"quantitative","scale":{"domain":[-4,4]},"title":"NAO index"}}},
{"data":{"name":"p3"},"mark":{"type":"line","color":"#2040ff","strokeWidth":1},
 "encoding":{"x":{"field":"d","type":"temporal","title":null,"scale":{"type":"utc","domain":[{"year":2016,"month":7,"date":29,"hours":18,"utc":true},{"year":2016,"month":12,"date":10,"utc":true}]}},"y":{"field":"mean","type":"quantitative","scale":{"domain":[-4,4]},"title":"NAO index"}}},
{"data":{"values":[{}]},"mark":{"type":"rule","color":"black","strokeDash":[6,4],"strokeWidth":1},"encoding":{"y":{"datum":0,"type":"quantitative","scale":{"domain":[-4,4]},"title":"NAO index"}}},
{"data":{"name":"obs"},"mark":{"type":"line","color":"black","strokeWidth":2.5,"interpolate":"monotone"},
 "encoding":{"x":{"field":"d","type":"temporal","title":null,"scale":{"type":"utc","domain":[{"year":2016,"month":7,"date":29,"hours":18,"utc":true},{"year":2016,"month":12,"date":10,"utc":true}]}},"y":{"field":"v","type":"quantitative","scale":{"domain":[-4,4]},"title":"NAO index"}}},
{"data":{"values":[{"t":"mean=−0.4319"}]},"mark":{"type":"text","align":"left","baseline":"middle","font":"DejaVu Sans Mono","fontSize":17},
 "encoding":{"x":{"datum":{"year":2016,"month":7,"date":31,"hours":18,"utc":true},"type":"temporal","title":null,"scale":{"type":"utc"}},"y":{"datum":3.5,"type":"quantitative","scale":{"domain":[-4,4]},"title":"NAO index"},"text":{"field":"t"}}},
{"data":{"values":[{"t":"cor(w/obs)=0.4456"}]},"mark":{"type":"text","align":"right","baseline":"middle","font":"DejaVu Sans Mono","fontSize":15.5,"dx":-1},
 "encoding":{"x":{"datum":{"year":2016,"month":12,"date":10,"utc":true},"type":"temporal","title":null,"scale":{"type":"utc"}},"y":{"datum":3.5,"type":"quantitative","scale":{"domain":[-4,4]},"title":"NAO index"},"text":{"field":"t"}}}
]},
{"width":546,"height":124,"title":{"text":"500mb Z (14day Forecast)"},
"layer":[
{"data":{"name":"p4"},"mark":{"type":"area","color":"#e5dc35","opacity":1},
 "encoding":{"x":{"field":"d","type":"temporal","title":null,"scale":{"type":"utc","domain":[{"year":2016,"month":7,"date":29,"hours":18,"utc":true},{"year":2016,"month":12,"date":10,"utc":true}]},"axis":{"values":[{"year":2016,"month":8,"date":1,"utc":true},{"year":2016,"month":8,"date":16,"utc":true},{"year":2016,"month":9,"date":1,"utc":true},{"year":2016,"month":9,"date":16,"utc":true},{"year":2016,"month":10,"date":1,"utc":true},{"year":2016,"month":10,"date":16,"utc":true},{"year":2016,"month":11,"date":1,"utc":true},{"year":2016,"month":11,"date":16,"utc":true},{"year":2016,"month":12,"date":1,"utc":true}],"labelExpr":"utcmonth(datum.value)==7 && utcdate(datum.value)==1 ? ['1AUG','2016'] : upper(utcFormat(datum.value,'%-d%b'))"}},
 "y":{"field":"lo","type":"quantitative","scale":{"domain":[-4,4]},"title":"NAO index"},"y2":{"field":"hi"}}},
{"data":{"name":"p4"},"mark":{"type":"line","color":"#ff3a3a","strokeWidth":1},
 "encoding":{"x":{"field":"d","type":"temporal","title":null,"scale":{"type":"utc","domain":[{"year":2016,"month":7,"date":29,"hours":18,"utc":true},{"year":2016,"month":12,"date":10,"utc":true}]}},"y":{"field":"mx","type":"quantitative","scale":{"domain":[-4,4]},"title":"NAO index"}}},
{"data":{"name":"p4"},"mark":{"type":"line","color":"#ff3a3a","strokeWidth":1},
 "encoding":{"x":{"field":"d","type":"temporal","title":null,"scale":{"type":"utc","domain":[{"year":2016,"month":7,"date":29,"hours":18,"utc":true},{"year":2016,"month":12,"date":10,"utc":true}]}},"y":{"field":"mn","type":"quantitative","scale":{"domain":[-4,4]},"title":"NAO index"}}},
{"data":{"name":"p4"},"mark":{"type":"line","color":"#2040ff","strokeWidth":1},
 "encoding":{"x":{"field":"d","type":"temporal","title":null,"scale":{"type":"utc","domain":[{"year":2016,"month":7,"date":29,"hours":18,"utc":true},{"year":2016,"month":12,"date":10,"utc":true}]}},"y":{"field":"mean","type":"quantitative","scale":{"domain":[-4,4]},"title":"NAO index"}}},
{"data":{"values":[{}]},"mark":{"type":"rule","color":"black","strokeDash":[6,4],"strokeWidth":1},"encoding":{"y":{"datum":0,"type":"quantitative","scale":{"domain":[-4,4]},"title":"NAO index"}}},
{"data":{"name":"obs"},"mark":{"type":"line","color":"black","strokeWidth":2.5,"interpolate":"monotone"},
 "encoding":{"x":{"field":"d","type":"temporal","title":null,"scale":{"type":"utc","domain":[{"year":2016,"month":7,"date":29,"hours":18,"utc":true},{"year":2016,"month":12,"date":10,"utc":true}]}},"y":{"field":"v","type":"quantitative","scale":{"domain":[-4,4]},"title":"NAO index"}}},
{"data":{"values":[{"t":"mean=−0.5118"}]},"mark":{"type":"text","align":"left","baseline":"middle","font":"DejaVu Sans Mono","fontSize":17},
 "encoding":{"x":{"datum":{"year":2016,"month":7,"date":31,"hours":18,"utc":true},"type":"temporal","title":null,"scale":{"type":"utc"}},"y":{"datum":3.5,"type":"quantitative","scale":{"domain":[-4,4]},"title":"NAO index"},"text":{"field":"t"}}},
{"data":{"values":[{"t":"cor(w/obs)=0.0955"}]},"mark":{"type":"text","align":"right","baseline":"middle","font":"DejaVu Sans Mono","fontSize":15.5,"dx":-1},
 "encoding":{"x":{"datum":{"year":2016,"month":12,"date":10,"utc":true},"type":"temporal","title":null,"scale":{"type":"utc"}},"y":{"datum":3.5,"type":"quantitative","scale":{"domain":[-4,4]},"title":"NAO index"},"text":{"field":"t"}}}
]}
],
"config":{
 "view":{"stroke":"black","strokeWidth":2},
 "font":"DejaVu Sans Mono",
 "title":{"font":"DejaVu Sans Mono","fontSize":18.2,"fontWeight":"normal","color":"black","anchor":"start","frame":"group","offset":-15},
 "axis":{"domain":false,"grid":true,"gridColor":"#a8a8a8","gridDash":[2,3],"gridWidth":1,"tickColor":"black","tickWidth":1,"labelColor":"black","labelFont":"DejaVu Sans Mono","labelFontSize":10},
 "axisX":{"tickSize":3,"labelPadding":0,"labelFlush":false,"labelOverlap":false,"labelLineHeight":11,"labelFontSize":10.5},
 "axisY":{"tickSize":3,"labelPadding":1,"tickCount":9,"titleAngle":0,"titleX":546,"titleY":-5,"titleAlign":"right","titleBaseline":"alphabetic","titleFont":"DejaVu Sans Mono","titleFontSize":17,"titleFontWeight":"normal","titleColor":"black"}
}
}
